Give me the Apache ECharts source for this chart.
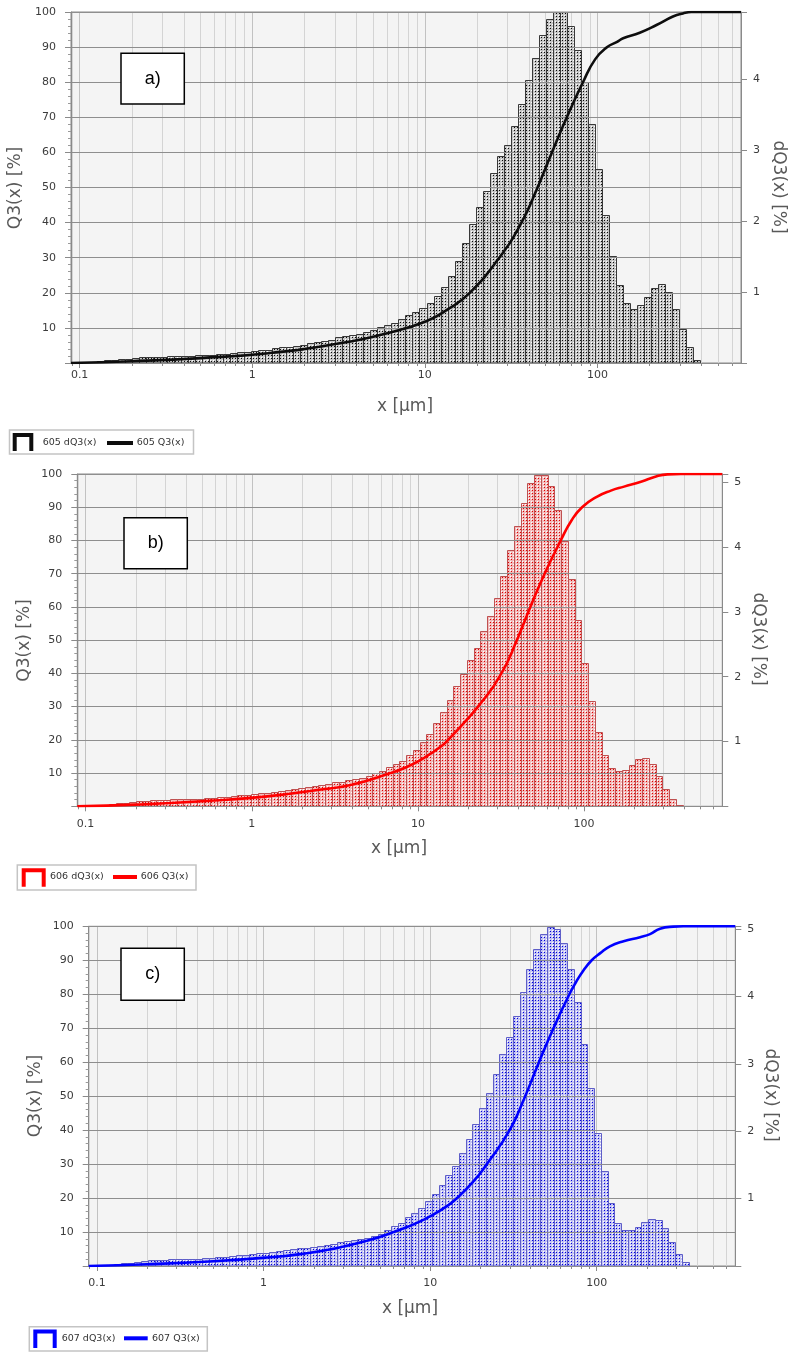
<!DOCTYPE html>
<html><head><meta charset="utf-8">
<script src="https://cdn.jsdelivr.net/npm/echarts@6/dist/echarts.min.js"></script>
<style>html,body{margin:0;padding:0;background:#fff}#c{width:790px;height:1352px}</style>
</head><body><div id="c"></div><script>
// Size class edges (µm)
const binEdges = [0.0869,0.0955,0.1048,0.1151,0.1263,0.1387,0.1523,0.1673,0.1837,0.2016,0.2214,0.2431,0.2669,0.2931,0.3218,0.3534,0.3880,0.4260,0.4677,0.5136,0.5639,0.6192,0.6799,0.7464,0.8196,0.8999,0.9881,1.0849,1.1912,1.3080,1.4361,1.5770,1.7315,1.9011,2.0874,2.2920,2.5165,2.7632,3.0339,3.3312,3.6577,4.0162,4.4097,4.8417,5.3162,5.8372,6.4091,7.0372,7.7268,8.4840,9.3155,10.228,11.230,12.331,13.539,14.866,16.323,17.922,19.679,21.607,23.725,26.050,28.602,31.405,34.483,37.862,41.572,45.646,50.119,55.030,60.423,66.344,72.845,79.983,87.821,96.427,105.88,116.25,127.64,140.15,153.88,168.96,185.52,203.70,223.66,245.58,269.65,296.07,325.09,356.94,391.92,430.33];

// dQ3(x) [%] per class
const dq3_605 = [0.01,0.01,0.02,0.02,0.03,0.04,0.04,0.05,0.06,0.07,
  0.08,0.085,0.085,0.09,0.10,0.10,0.10,0.10,0.11,0.11,
  0.11,0.12,0.13,0.14,0.15,0.16,0.17,0.18,0.19,0.21,
  0.22,0.23,0.24,0.26,0.28,0.29,0.31,0.33,0.36,0.38,
  0.39,0.41,0.43,0.46,0.50,0.54,0.57,0.62,0.67,0.72,
  0.78,0.85,0.95,1.07,1.23,1.43,1.69,1.95,2.20,2.42,
  2.68,2.91,3.07,3.33,3.65,3.98,4.29,4.62,4.84,4.94,
  4.94,4.74,4.41,3.95,3.36,2.73,2.08,1.51,1.10,0.85,
  0.76,0.81,0.93,1.06,1.11,1.00,0.76,0.48,0.23,0.04,0];
const dq3_606 = [0.01,0.01,0.015,0.02,0.025,0.03,0.045,0.055,0.06,0.075,
  0.08,0.09,0.095,0.10,0.11,0.11,0.11,0.115,0.12,0.13,
  0.13,0.14,0.15,0.16,0.17,0.18,0.19,0.20,0.21,0.22,
  0.24,0.25,0.27,0.28,0.30,0.31,0.33,0.35,0.37,0.38,
  0.40,0.42,0.44,0.47,0.51,0.55,0.60,0.65,0.70,0.79,
  0.87,0.99,1.11,1.28,1.45,1.64,1.85,2.05,2.26,2.45,
  2.70,2.94,3.21,3.55,3.95,4.33,4.69,4.99,5.12,5.12,
  4.94,4.58,4.09,3.51,2.88,2.21,1.63,1.14,0.79,0.59,
  0.54,0.56,0.64,0.73,0.74,0.66,0.47,0.27,0.12,0.02,0];
const dq3_607 = [0.01,0.01,0.015,0.02,0.025,0.04,0.05,0.065,0.075,0.085,
  0.09,0.095,0.10,0.105,0.11,0.11,0.11,0.115,0.125,0.13,
  0.14,0.145,0.16,0.17,0.18,0.19,0.20,0.21,0.22,0.23,
  0.25,0.26,0.27,0.28,0.30,0.31,0.33,0.35,0.37,0.38,
  0.40,0.42,0.45,0.48,0.53,0.60,0.64,0.72,0.78,0.86,
  0.96,1.07,1.20,1.35,1.49,1.68,1.89,2.11,2.34,2.57,
  2.85,3.14,3.40,3.71,4.07,4.40,4.70,4.93,5.03,5.00,
  4.79,4.40,3.91,3.29,2.64,1.98,1.41,0.94,0.64,0.54,
  0.53,0.58,0.66,0.70,0.68,0.56,0.36,0.18,0.06,0,0];

// Q3(x) [%] cumulative curves: x [µm] and value
const q3x_605 = [0.0891,0.2,0.5,1.24,3.03,6.3,10.2,13.5,18.2,27,36.3,45,54.5,66.5,82.5,97,114,130,141,176,220,274,313,350,679];
const q3y_605 = [0,0.5,1.4,2.8,5.4,8.7,11.9,15.2,20,30,40,50,60,70,80,86.5,90,91.5,92.5,94.1,96.3,98.7,99.6,100,100];
const q3x_606 = [0.0891,0.2,0.5,1.2,2.48,3.94,6.85,8.63,10.9,13.7,15.2,23,31.8,39.4,47.5,57.9,72.4,84,97.3,120,145,174,220,277,318,383,679];
const q3y_606 = [0,0.5,1.5,2.9,4.9,6.4,10,11.9,14.6,17.9,20,30,40,50,60,70,80,86,90,93.2,95.0,96.2,97.7,99.4,99.9,100,100];
const q3x_607 = [0.0891,0.2,0.5,1.05,1.66,2.63,4.17,6.03,9.12,12.6,14.5,18.2,21.9,30,37.2,45,55,68.5,75,83.2,93.3,105,120,145,182,209,240,288,331,679];
const q3y_607 = [0,0.5,1.4,2.5,3.5,5.1,7.4,10,13.6,17.6,20,24.9,30,40,50,60,70,80,83.5,87,90,92.1,94.1,95.6,96.8,97.7,99.3,99.9,100,100];

// Axis ranges and tick values
const xRange = [0.08913, 679.2];
const q3Range = [0, 100];
const dq3Max = [4.94, 5.13, 5.04];
const minorGrid = [0.09,0.2,0.3,0.4,0.5,0.6,0.7,0.8,0.9,2,3,4,5,6,7,8,9,20,30,40,50,60,70,80,90,200,300,400,500,600];
const sampleIds = ['605','606','607'];
const panelLabels = ['a)','b)','c)'];

// ---- styling / layout ----
const FONT = '"DejaVu Sans", Verdana, sans-serif';
const panels = [
  { dq3: dq3_605, qx: q3x_605, qy: q3y_605,
    grid: {left: 71, top: 12, width: 670, height: 351},
    line: '#0d0d0d', edge: '#383838', dot: '#0a0a0a', bg: '#c6c6c6',
    xLabelMargin: 7,
    box: [121, 53.3, 63.3, 50.7],
    legend: {box: [9.5, 430, 184, 24], br: [12.7, 33.3, 433, 451], t1: 42.7, ln: [107, 133], t2: 136.7, cy: 443},
    titles: {q: [15.8, 188], d: [778, 187], x: [405, 406.7]} },
  { dq3: dq3_606, qx: q3x_606, qy: q3y_606,
    grid: {left: 77.3, top: 474, width: 645, height: 332.3},
    line: '#ff0000', edge: '#bf5050', dot: '#e00000', bg: '#f1bcbc',
    xLabelMargin: 12,
    box: [124, 517.7, 63.3, 51],
    legend: {box: [17.3, 865, 178.7, 25], br: [21.7, 45.7, 868.3, 886.7], t1: 50, ln: [113, 137], t2: 140.7, cy: 877},
    titles: {q: [25, 640.5], d: [758.3, 639], x: [399, 848.3]} },
  { dq3: dq3_607, qx: q3x_607, qy: q3y_607,
    grid: {left: 88.7, top: 926.3, width: 646.6, height: 339.7},
    line: '#0000ff', edge: '#5e5ec8', dot: '#0000e0', bg: '#c4c4f2',
    xLabelMargin: 12,
    box: [121, 948.3, 63.3, 52],
    legend: {box: [29.3, 1326.7, 178, 24.3], br: [33.3, 56.7, 1329.5, 1348], t1: 61.7, ln: [124, 147.7], t2: 152, cy: 1338.3},
    titles: {q: [35.8, 1096], d: [770.8, 1095], x: [410, 1309]} }
];

function makePattern(bg, dot) {
  const c = document.createElement('canvas');
  c.width = 3; c.height = 3;
  const g = c.getContext('2d');
  g.fillStyle = bg; g.fillRect(0, 0, 3, 3);
  g.fillStyle = '#ffffff'; g.fillRect(0, 0, 1, 1);
  g.fillStyle = dot; g.fillRect(1, 1, 1, 1);
  return {image: c, repeat: 'repeat'};
}

const grids = [], xAxes = [], yAxes = [], series = [], graphics = [];
const axisGray = '#8a8a8a';

panels.forEach((p, i) => {
  grids.push(Object.assign({show: true, backgroundColor: '#f4f4f4', borderColor: axisGray, borderWidth: 1}, p.grid));
  xAxes.push({
    type: 'log', logBase: 10, gridIndex: i, min: xRange[0], max: xRange[1],
    axisLine: {show: true, lineStyle: {color: axisGray}},
    axisTick: {show: true, length: 5, lineStyle: {color: axisGray}},
    axisLabel: {show: true, showMinLabel: false, showMaxLabel: false, color: '#3c3c3c', fontSize: 11, fontFamily: FONT,
      margin: p.xLabelMargin, formatter: v => String(+(+v).toPrecision(6))},
    splitLine: {show: true, lineStyle: {color: '#c2c2c2', width: 1}}
  });
  yAxes.push({
    type: 'value', gridIndex: i, position: 'left', min: q3Range[0], max: q3Range[1], interval: 10, z: 5,
    axisLine: {show: true, lineStyle: {color: axisGray}},
    axisTick: {show: true, length: 6, lineStyle: {color: axisGray}},
    minorTick: {show: true, splitNumber: 5, length: 3, lineStyle: {color: '#9a9a9a'}},
    axisLabel: {color: '#3c3c3c', fontSize: 11, fontFamily: FONT, margin: 15, formatter: v => v === 0 ? '' : String(v)},
    splitLine: {show: true, lineStyle: {color: '#8e8e8e', width: 1}}
  });
  yAxes.push({
    type: 'value', gridIndex: i, position: 'right', min: 0, max: dq3Max[i], interval: 1,
    axisLine: {show: true, lineStyle: {color: axisGray}},
    axisTick: {show: true, length: 6, lineStyle: {color: axisGray}},
    axisLabel: {color: '#3c3c3c', fontSize: 11, fontFamily: FONT, margin: 12,
      formatter: v => (v > 0 && Math.abs(v - Math.round(v)) < 1e-9) ? String(Math.round(v)) : ''},
    splitLine: {show: false}
  });

  // minor vertical grid lines + minor ticks
  series.push({
    type: 'custom', xAxisIndex: i, yAxisIndex: 2 * i, silent: true, clip: false, z: 1,
    data: minorGrid.map(v => [v, 0]), encode: {x: 0, y: 1},
    renderItem: (params, api) => {
      const v = api.value(0);
      const t = api.coord([v, q3Range[1]]), b = api.coord([v, q3Range[0]]);
      const x = Math.round(t[0]) + 0.5;
      return {type: 'group', children: [
        {type: 'line', shape: {x1: x, y1: t[1], x2: x, y2: b[1]}, style: {stroke: '#d4d4d4', lineWidth: 1}},
        {type: 'line', shape: {x1: x, y1: b[1], x2: x, y2: b[1] + 3}, style: {stroke: axisGray, lineWidth: 1}}
      ]};
    }
  });

  // histogram bars (dQ3)
  const pat = makePattern(p.bg, p.dot);
  series.push({
    type: 'custom', name: sampleIds[i] + ' dQ3(x)', xAxisIndex: i, yAxisIndex: 2 * i + 1, clip: true, z: 2,
    data: p.dq3.map((v, j) => [binEdges[j], binEdges[j + 1], v]),
    encode: {x: [0, 1], y: 2},
    renderItem: (params, api) => {
      const v = api.value(2);
      if (!(v > 0)) return {type: 'group', children: []};
      const a = api.coord([api.value(0), v]);
      const b = api.coord([api.value(1), 0]);
      const x0 = Math.round(a[0]) + 0.5, x1 = Math.round(b[0]) + 0.5;
      const y0 = Math.round(a[1]) + 0.5, y1 = b[1];
      return {type: 'rect', shape: {x: x0, y: y0, width: x1 - x0, height: y1 - y0},
        style: {fill: pat, stroke: p.edge, lineWidth: 1}};
    }
  });

  // cumulative curve (Q3)
  series.push({
    type: 'line', name: sampleIds[i] + ' Q3(x)', xAxisIndex: i, yAxisIndex: 2 * i, z: 10,
    data: p.qx.map((x, k) => [x, p.qy[k]]),
    showSymbol: false, symbol: 'none', smooth: 0.5, clip: true,
    lineStyle: {color: p.line, width: 2.6}
  });

  // panel label box
  graphics.push({type: 'rect', shape: {x: p.box[0], y: p.box[1], width: p.box[2], height: p.box[3]},
    style: {fill: '#ffffff', stroke: '#000000', lineWidth: 1.5}, z: 20});
  graphics.push({type: 'text', x: p.box[0] + p.box[2] / 2, y: p.box[1] + p.box[3] / 2, z: 21,
    style: {text: panelLabels[i], fill: '#000', font: '18px "Liberation Sans", Arial, sans-serif',
      align: 'center', verticalAlign: 'middle', textAlign: 'center', textVerticalAlign: 'middle'}});

  // axis titles
  const tStyle = (txt) => ({text: txt, fill: '#595959', font: '17px ' + FONT,
    align: 'center', verticalAlign: 'middle', textAlign: 'center', textVerticalAlign: 'middle'});
  graphics.push({type: 'text', x: p.titles.q[0], y: p.titles.q[1], rotation: Math.PI / 2, style: tStyle('Q3(x) [%]')});
  graphics.push({type: 'text', x: p.titles.d[0], y: p.titles.d[1], rotation: -Math.PI / 2, style: tStyle('dQ3(x) [%]')});
  graphics.push({type: 'text', x: p.titles.x[0], y: p.titles.x[1], style: tStyle('x [µm]')});

  // legend
  const L = p.legend;
  graphics.push({type: 'rect', shape: {x: L.box[0], y: L.box[1], width: L.box[2], height: L.box[3]},
    style: {fill: '#ffffff', stroke: '#c4c4c4', lineWidth: 1.5}});
  graphics.push({type: 'polyline', shape: {points: [[L.br[0] + 2, L.br[3]], [L.br[0] + 2, L.br[2] + 2], [L.br[1] - 2, L.br[2] + 2], [L.br[1] - 2, L.br[3]]]},
    style: {stroke: p.line, lineWidth: 4, fill: null}});
  const lStyle = (txt) => ({text: txt, fill: '#333333', font: '9.5px ' + FONT,
    align: 'left', verticalAlign: 'middle', textAlign: 'left', textVerticalAlign: 'middle'});
  graphics.push({type: 'text', x: L.t1, y: L.cy, style: lStyle(sampleIds[i] + ' dQ3(x)')});
  graphics.push({type: 'line', shape: {x1: L.ln[0], y1: L.cy, x2: L.ln[1], y2: L.cy}, style: {stroke: p.line, lineWidth: 4}});
  graphics.push({type: 'text', x: L.t2, y: L.cy, style: lStyle(sampleIds[i] + ' Q3(x)')});
});

const chart = echarts.init(document.getElementById('c'), null, {renderer: 'canvas', width: 790, height: 1352});
chart.setOption({
  animation: false,
  backgroundColor: '#ffffff',
  grid: grids, xAxis: xAxes, yAxis: yAxes, series: series,
  graphic: {elements: graphics}
});
</script></body></html>
